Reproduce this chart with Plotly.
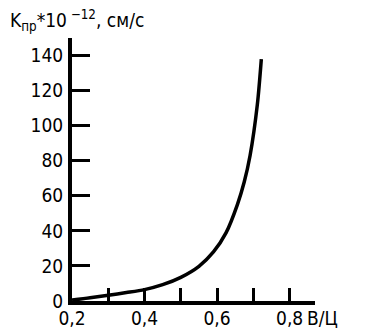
import plotly.graph_objects as go

x_vals = [0.20, 0.25, 0.30, 0.35, 0.40, 0.45, 0.50, 0.55, 0.59, 0.625, 0.656, 0.675, 0.691, 0.711, 0.722]
k_vals = [0.5, 1.8, 3.3, 4.8, 6.5, 9.3, 13.5, 19.8, 28.0, 39.0, 55.0, 68.0, 83.0, 112.0, 138.0]

y_ticks = [0, 20, 40, 60, 80, 100, 120, 140]
x_ticks = [0.2, 0.3, 0.4, 0.5, 0.6, 0.7, 0.8]
x_ticktext = ["0,2", "", "0,4", "", "0,6", "", "0,8"]

FONT = "Liberation Sans Narrow, DejaVu Sans Condensed, Arial Narrow, sans-serif"

fig = go.Figure()
fig.add_trace(go.Scatter(
    x=x_vals, y=k_vals, mode="lines",
    line=dict(color="black", width=3.5, shape="spline", smoothing=0.8),
    showlegend=False, hoverinfo="skip",
))

fig.update_layout(
    template="none",
    width=375, height=329,
    margin=dict(l=64, r=68, t=30, b=36),
    paper_bgcolor="white", plot_bgcolor="white",
    font=dict(family=FONT, size=19, color="black"),
    xaxis=dict(
        range=[0.2, 0.87], tickvals=x_ticks, ticktext=x_ticktext,
        ticks="inside", ticklen=13, tickwidth=3, tickcolor="black",
        showline=True, linewidth=4, linecolor="black", automargin=False,
        showgrid=False, zeroline=False, ticklabelstandoff=-3,
        tickfont=dict(family=FONT, size=19, color="black"),
    ),
    yaxis=dict(
        range=[0, 150], tickvals=y_ticks,
        ticks="inside", ticklen=18, tickwidth=3, tickcolor="black",
        showline=True, linewidth=4, linecolor="black", automargin=False,
        showgrid=False, zeroline=False, ticklabelstandoff=1,
        tickfont=dict(family=FONT, size=19, color="black"),
    ),
    annotations=[
        dict(text="K<sub>пр</sub>*10<sup> −12</sup>, см/с",
             xref="paper", yref="paper", x=0, y=1, xanchor="left", yanchor="bottom",
             xshift=-64, yshift=2, showarrow=False,
             font=dict(family=FONT, size=19, color="black")),
        dict(text="В/Ц",
             xref="paper", yref="paper", x=1, y=0, xanchor="left", yanchor="top",
             xshift=-10, yshift=-4, showarrow=False,
             font=dict(family=FONT, size=19, color="black")),
    ],
)

fig.write_html("out.html")
